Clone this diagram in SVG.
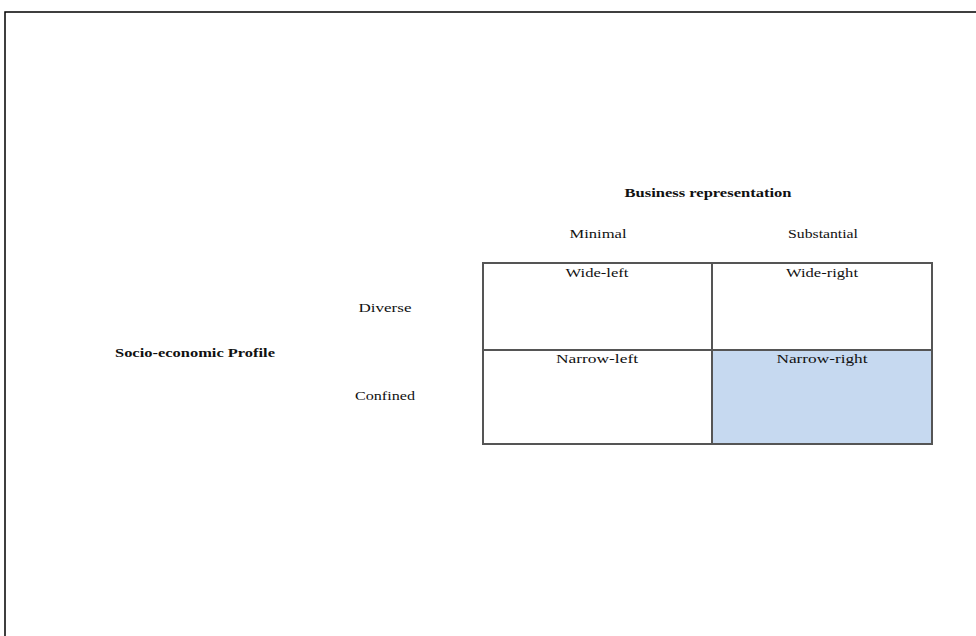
<svg xmlns="http://www.w3.org/2000/svg" width="976" height="636" viewBox="0 0 976 636">
<style>
text{font-family:"Liberation Serif","Times New Roman",serif;font-size:12px;fill:#111}
.b{font-weight:bold}
.cell{stroke:#555;stroke-width:2;fill:#fff}
</style>
<rect x="0" y="0" width="976" height="636" fill="#fff"/>
<path d="M5,640 V12 H980" fill="none" stroke="#000" stroke-width="1.5"/>
<g id="labels">
<text class="b" x="708" y="197" text-anchor="middle" textLength="167" lengthAdjust="spacingAndGlyphs">Business representation</text>
<text x="598" y="238" text-anchor="middle" textLength="57" lengthAdjust="spacingAndGlyphs">Minimal</text>
<text x="823" y="238" text-anchor="middle" textLength="70" lengthAdjust="spacingAndGlyphs">Substantial</text>
<text class="b" x="115" y="357" textLength="160" lengthAdjust="spacingAndGlyphs">Socio-economic Profile</text>
<text x="385" y="312" text-anchor="middle" textLength="53" lengthAdjust="spacingAndGlyphs">Diverse</text>
<text x="385" y="400" text-anchor="middle" textLength="60" lengthAdjust="spacingAndGlyphs">Confined</text>
</g>
<g id="wide-left"><rect class="cell" x="483" y="263" width="229" height="87"/><text x="597" y="277" text-anchor="middle" textLength="63" lengthAdjust="spacingAndGlyphs">Wide-left</text></g>
<g id="wide-right"><rect class="cell" x="712" y="263" width="220" height="87"/><text x="822" y="277" text-anchor="middle" textLength="72" lengthAdjust="spacingAndGlyphs">Wide-right</text></g>
<g id="narrow-left"><rect class="cell" x="483" y="350" width="229" height="94"/><text x="597" y="363" text-anchor="middle" textLength="82" lengthAdjust="spacingAndGlyphs">Narrow-left</text></g>
<g id="narrow-right"><rect class="cell" x="712" y="350" width="220" height="94" style="fill:#c6d9f0"/><text x="822" y="363" text-anchor="middle" textLength="91" lengthAdjust="spacingAndGlyphs">Narrow-right</text></g>
<g id="connectors"/>
</svg>
